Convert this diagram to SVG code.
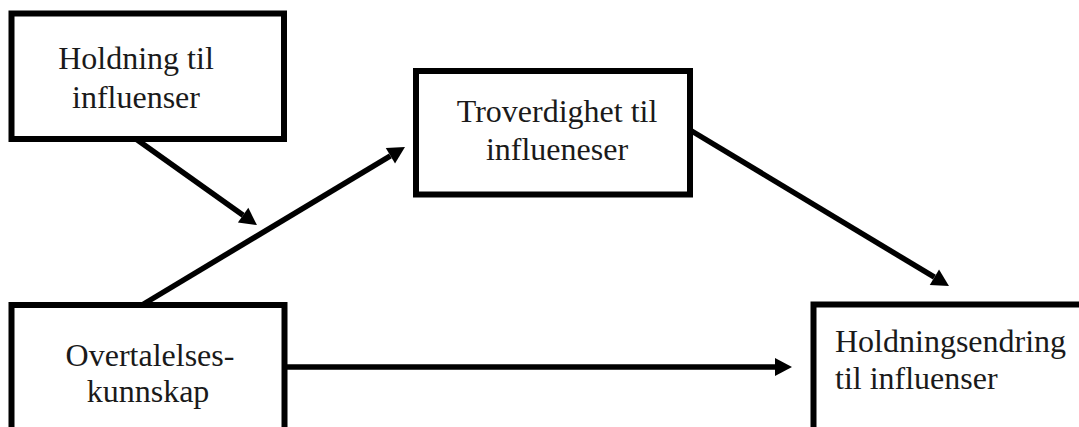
<svg xmlns="http://www.w3.org/2000/svg" width="1079" height="427" viewBox="0 0 1079 427">
  <style>
    .box { fill: #ffffff; stroke: #000000; stroke-width: 6; }
    .lbl { font-family: "Liberation Serif", "Times New Roman", serif; font-size: 32px; fill: #1a1a1a; }
    .mid { text-anchor: middle; }
    .conn { stroke: #000000; stroke-width: 5.5; fill: none; marker-end: url(#arrow); }
  </style>
  <defs>
    <marker id="arrow" markerUnits="userSpaceOnUse" markerWidth="18" markerHeight="18" refX="0" refY="9" orient="auto" overflow="visible">
      <path d="M0,0 L17,9 L0,18 Z" fill="#000000"/>
    </marker>
  </defs>
  <rect width="1079" height="427" fill="#ffffff"/>

  <g id="node-holdning">
    <rect class="box" x="11.5" y="13.5" width="272.5" height="125.5"/>
    <text class="lbl mid" x="136" y="69">Holdning til</text>
    <text class="lbl mid" x="136" y="108">influenser</text>
  </g>

  <g id="node-troverdighet">
    <rect class="box" x="416" y="71" width="274" height="123.5"/>
    <text class="lbl mid" x="557" y="122">Troverdighet til</text>
    <text class="lbl mid" x="557" y="160">influeneser</text>
  </g>

  <g id="node-overtalelse">
    <rect class="box" x="11.5" y="305" width="273" height="200"/>
    <text class="lbl mid" x="150" y="366">Overtalelses-</text>
    <text class="lbl mid" x="148" y="402">kunnskap</text>
  </g>

  <g id="node-holdningsendring">
    <rect class="box" x="813.5" y="304.5" width="300" height="200"/>
    <text class="lbl" x="835" y="352">Holdningsendring</text>
    <text class="lbl" x="835" y="389">til influenser</text>
  </g>

  <g id="connectors">
    <line class="conn" x1="136" y1="139" x2="243.1" y2="215.2"/>
    <line class="conn" x1="142" y1="305" x2="390.4" y2="155.8"/>
    <line class="conn" x1="690" y1="130" x2="934.4" y2="277.2"/>
    <line class="conn" x1="284" y1="367" x2="775" y2="367"/>
  </g>
</svg>
